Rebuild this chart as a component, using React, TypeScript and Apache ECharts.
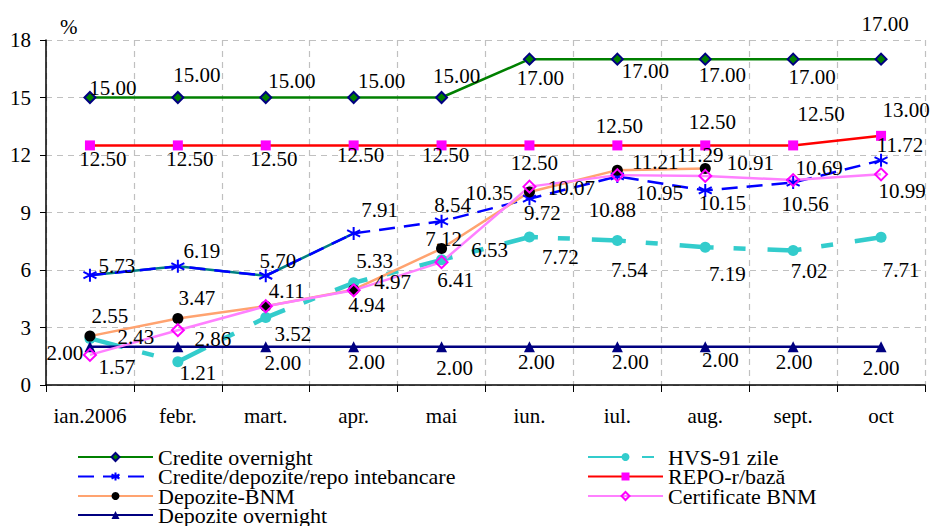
import React, { useEffect, useRef } from "react";
import * as echarts from "echarts";

const categories = ["ian.2006", "febr.", "mart.", "apr.", "mai", "iun.", "iul.", "aug.", "sept.", "oct"];
const yTicks = { min: 0, max: 18, interval: 3 };

const crediteOvernight = [15, 15, 15, 15, 15, 17, 17, 17, 17, 17];
const crediteInterbancare = [5.73, 6.19, 5.7, 7.91, 8.54, 9.72, 10.88, 10.15, 10.56, 11.72];
const depoziteBNM = [2.55, 3.47, 4.11, 4.97, 7.12, 10.07, 11.21, 11.29];
const depoziteOvernight = [2, 2, 2, 2, 2, 2, 2, 2, 2, 2];
const hvs91 = [2.43, 1.21, 3.52, 5.33, 6.53, 7.72, 7.54, 7.19, 7.02, 7.71];
const repo = [12.5, 12.5, 12.5, 12.5, 12.5, 12.5, 12.5, 12.5, 12.5, 13];
const certificateBNM = [1.57, 2.86, 4.11, 4.94, 6.41, 10.35, 10.95, 10.91, 10.69, 10.99];

const legendLeft = ["Credite overnight", "Credite/depozite/repo intebancare", "Depozite-BNM", "Depozite overnight"];
const legendRight = ["HVS-91 zile", "REPO-r/bază", "Certificate BNM"];

// label offsets (styling only), null = label hidden
const offCO = [[23, -10], [19, -23], [26, -17], [28, -17], [15, -22], [11, 19], [28, 12], [17, 16], [19, 18], [4, -35]];
const offCI = [[27, -9], [24, -15], [12, -15], [26, -23], [11, -16], [13, 14], [-5, 34], [17, 13], [12, 21], [19, -15]];
const offDB = [[20, -20], [19, -20], [21, -15], [39, -8], [2, -10], [42, -4], [38, -8], [-5, -14]];
const offDO = [[-25, 6], null, [17, 16], [13, 15], [13, 21], [7, 15], [13, 15], [15, 13], [1, 15], [0, 21]];
const offHVS = [[46, -1], [20, 11], [27, 16], [21, -22], [48, -10], [31, 20], [12, 30], [22, 27], [16, 21], [20, 33]];
const offRP = [[13, 14], [12, 14], [8, 14], [7, 10], [4, 10], [5, 18], [2, -19], [7, -23], [28, -31], [25, -26]];
const offCB = [[27, 12], [35, 9], null, [13, 15], [14, 18], [-40, 6], [42, 18], [45, -13], [26, -12], [21, 17]];

const FONT = "Liberation Serif";
const FS = 21;
const LEGEND_FS = 22;

const asterisk = "path://M5,0L5,10M0.67,2.5L9.33,7.5M0.67,7.5L9.33,2.5";

function withLabels(vals: number[], offs: (number[] | null)[]) {
  return vals.map((v, i) => {
    const o = offs[i];
    return {
      value: v,
      label: o ? { show: true, offset: o } : { show: false },
    };
  });
}

const baseLabel = {
  show: true,
  position: "inside",
  color: "#000",
  fontSize: FS,
  fontFamily: FONT,
  formatter: (p: any) => Number(p.value).toFixed(2),
};

function makeLegend(name: string, left: number, centerY: number) {
  return {
    orient: "vertical",
    left,
    top: centerY - 10,
    padding: 0,
    itemGap: 0,
    itemWidth: 75,
    itemHeight: 10,
    selectedMode: false,
    textStyle: { color: "#000", fontSize: LEGEND_FS, fontFamily: FONT, lineHeight: 20 },
    data: [name],
  };
}

export default function App() {
  const ref = useRef<HTMLDivElement>(null);
  useEffect(() => {
    if (!ref.current) return;
    const chart = echarts.init(ref.current, null, { renderer: "svg" });
    const rowsY = [456, 475.5, 495, 514];
    const legends = [
      ...legendLeft.map((n, i) => makeLegend(n, 77, rowsY[i])),
      ...legendRight.map((n, i) => makeLegend(n, 587, rowsY[i])),
    ];
    const option: any = {
      animation: false,
      backgroundColor: "#fff",
      textStyle: { fontFamily: FONT },
      grid: { left: 46, right: 5, top: 40, bottom: 141, containLabel: false, outerBoundsMode: "none" },
      xAxis: {
        type: "category",
        data: categories,
        boundaryGap: true,
        axisLine: { lineStyle: { color: "#000", width: 1.5 } },
        axisTick: { show: true, length: 7, inside: false, lineStyle: { color: "#000" } },
        axisLabel: { color: "#000", fontSize: FS, fontFamily: FONT, margin: 20, interval: 0 },
        splitLine: { show: true, lineStyle: { color: "#C0C0C0", type: [6, 5], width: 1.2 } },
      },
      yAxis: {
        type: "value",
        min: yTicks.min,
        max: yTicks.max,
        interval: yTicks.interval,
        axisLine: { show: true, lineStyle: { color: "#000", width: 1.5 } },
        axisTick: { show: true, length: 6, lineStyle: { color: "#000" } },
        axisLabel: { color: "#000", fontSize: FS, fontFamily: FONT, margin: 15 },
        splitLine: { show: true, lineStyle: { color: "#C0C0C0", type: [6, 5], width: 1.2 } },
      },
      graphic: [
        { type: "text", left: 60, top: 16, style: { text: "%", fontSize: FS, fontFamily: FONT, fill: "#000" } },
      ],
      legend: legends,
      series: [
        {
          name: "HVS-91 zile",
          type: "line",
          data: withLabels(hvs91, offHVS),
          symbol: "circle",
          symbolSize: 11,
          itemStyle: { color: "#33CCCC" },
          lineStyle: { color: "#33CCCC", width: 4.5, type: [34, 20, 12, 22] },
          label: baseLabel,
        },
        {
          name: "Depozite overnight",
          type: "line",
          data: withLabels(depoziteOvernight, offDO),
          symbol: "triangle",
          symbolSize: 11,
          itemStyle: { color: "#000080" },
          lineStyle: { color: "#000080", width: 2.5 },
          label: baseLabel,
        },
        {
          name: "REPO-r/bază",
          type: "line",
          data: withLabels(repo, offRP),
          symbol: "rect",
          symbolSize: 10,
          itemStyle: { color: "#FF00FF" },
          lineStyle: { color: "#FF0000", width: 2.5 },
          label: baseLabel,
        },
        {
          name: "Credite overnight",
          type: "line",
          data: withLabels(crediteOvernight, offCO),
          symbol: "diamond",
          symbolSize: 11,
          itemStyle: { color: "#008000", borderColor: "#000080", borderWidth: 2 },
          lineStyle: { color: "#008000", width: 2.5 },
          label: baseLabel,
        },
        {
          name: "underlay",
          type: "line",
          data: crediteInterbancare.slice(0, 4),
          symbol: "none",
          silent: true,
          lineStyle: { color: "#008080", width: 2.5 },
          label: { show: false },
        },
        {
          name: "Credite/depozite/repo intebancare",
          type: "line",
          data: withLabels(crediteInterbancare, offCI),
          symbol: asterisk,
          symbolSize: 13,
          itemStyle: { color: "#0000FF", borderColor: "#0000FF", borderWidth: 2 },
          lineStyle: { color: "#0000FF", width: 2.5, type: [16, 9] },
          label: baseLabel,
        },
        {
          name: "Depozite-BNM",
          type: "line",
          data: withLabels(depoziteBNM, offDB),
          symbol: "circle",
          symbolSize: 11,
          itemStyle: { color: "#000000" },
          lineStyle: { color: "#FFA370", width: 2.5 },
          label: baseLabel,
        },
        {
          name: "Certificate BNM",
          type: "line",
          data: withLabels(certificateBNM, offCB),
          symbol: "diamond",
          symbolSize: 12,
          itemStyle: { color: "rgba(255,255,255,0)", borderColor: "#FF00FF", borderWidth: 2 },
          lineStyle: { color: "#FF80FF", width: 2.5 },
          label: baseLabel,
        },
      ],
    };
    chart.setOption(option);
    return () => chart.dispose();
  }, []);
  return <div ref={ref} style={{ position: "fixed", left: 0, top: 0, width: 930, height: 526 }} />;
}
